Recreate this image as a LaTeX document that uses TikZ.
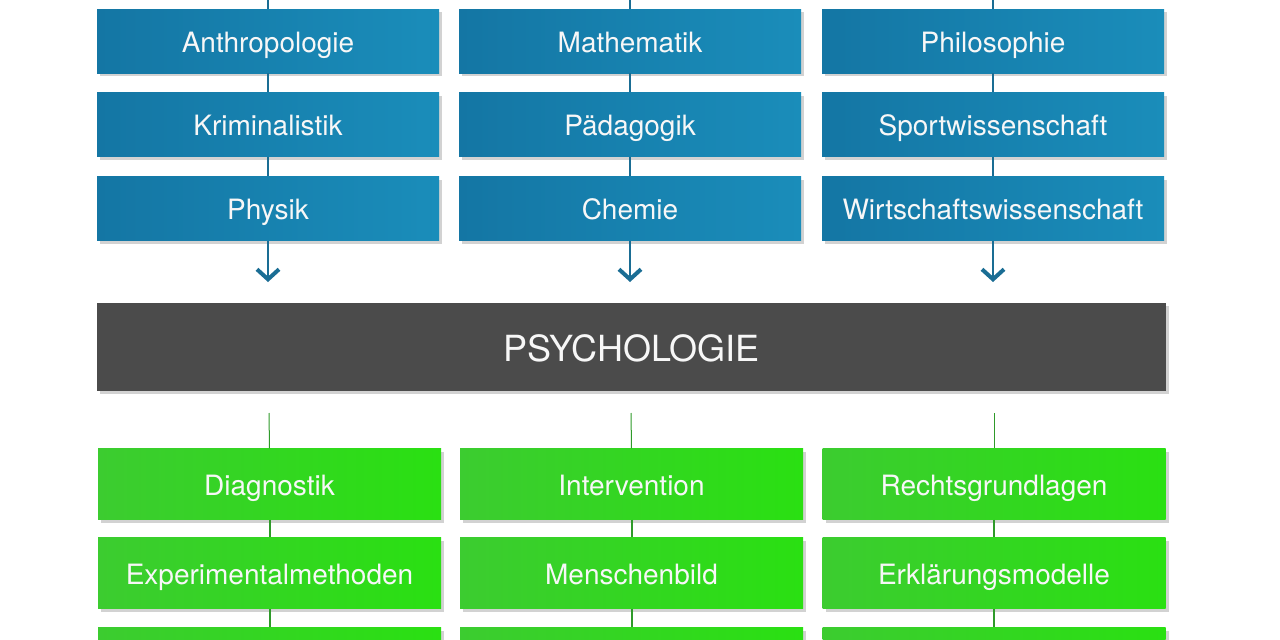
\documentclass[tikz,border=0pt]{standalone}
\usepackage{fontspec}
\setmainfont{TeX Gyre Heros}
\usetikzlibrary{shadows,arrows.meta}
\definecolor{blaul}{HTML}{1476A4}
\definecolor{blaur}{HTML}{1A8DBA}
\definecolor{blaulinie}{HTML}{1A6D94}
\definecolor{gruenl}{HTML}{3CCC30}
\definecolor{gruenr}{HTML}{2AE012}
\definecolor{gruenlinie}{HTML}{2F9A2A}
\definecolor{dunkel}{HTML}{4B4B4B}
\begin{document}
\begin{tikzpicture}[x=1pt,y=-1pt,
  fach/.style={rectangle, minimum width=342pt, minimum height=64pt, inner sep=0pt,
    left color=blaul, right color=blaur, text=white!94!gray,
    font=\fontsize{28}{30}\selectfont, text height=26pt, text depth=4pt,
    drop shadow={shadow xshift=3pt, shadow yshift=-3pt, opacity=0.35}},
  anwendung/.style={fach, minimum width=343pt, minimum height=71pt,
    left color=gruenl, right color=gruenr},
  psy/.style={rectangle, minimum width=1069pt, minimum height=88pt, inner sep=0pt,
    fill=dunkel, text=white!94!gray, font=\fontsize{36}{40}\selectfont,
    text height=28pt, text depth=0pt,
    drop shadow={shadow xshift=3pt, shadow yshift=-3pt, opacity=0.35}},
  blau/.style={draw=blaulinie, line width=2.5pt},
  pfeil/.style={blau, -{Straight Barb[length=10pt,width=22pt,line width=4pt]}},
  gruen/.style={draw=gruenlinie, line width=2pt},
  duenn/.style={draw=gruenlinie, line width=1pt}]
\useasboundingbox (0,0) rectangle (1280,640);
\clip (0,0) rectangle (1280,640);
\fill[white] (0,0) rectangle (1280,640);

% Nachbardisziplinen
\coordinate (t1) at (268,-5);
\coordinate (t2) at (630,-5);
\coordinate (t3) at (993,-5);
\node[fach] (n1) at (268,41) {Anthropologie};
\node[fach] (n2) at (268,124.5) {Kriminalistik};
\node[fach] (n3) at (268,208.5) {Physik};
\node[fach] (n4) at (630,41) {Mathematik};
\node[fach] (n5) at (630,124.5) {Pädagogik};
\node[fach] (n6) at (630,208.5) {Chemie};
\node[fach] (n7) at (993,41) {Philosophie};
\node[fach] (n8) at (993,124.5) {Sportwissenschaft};
\node[fach] (n9) at (993,208.5) {Wirtschaftswissenschaft};
\coordinate (p1) at (268,282);
\coordinate (p2) at (630,282);
\coordinate (p3) at (993,282);

\node[psy] (psy) at (631.5,347) {PSYCHOLOGIE};

% Anwendungsfelder
\coordinate (u1) at (269,413);
\coordinate (u2) at (631,413);
\coordinate (u3) at (994,413);
\node[anwendung] (g1) at (269.5,484) {Diagnostik};
\node[anwendung] (g2) at (269.5,573) {Experimentalmethoden};
\node[anwendung] (g3) at (269.5,663) {};
\node[anwendung] (g4) at (631.5,484) {Intervention};
\node[anwendung] (g5) at (631.5,573) {Menschenbild};
\node[anwendung] (g6) at (631.5,663) {};
\node[anwendung] (g7) at (994,484) {Rechtsgrundlagen};
\node[anwendung] (g8) at (994,573) {Erklärungsmodelle};
\node[anwendung] (g9) at (994,663) {};

\path[blau] (t1) -- (n1.north);
\path[blau] (n1) -- (n2);
\path[blau] (n2) -- (n3);
\path[pfeil] (n3.south) -- (p1);
\path[blau] (t2) -- (n4.north);
\path[blau] (n4) -- (n5);
\path[blau] (n5) -- (n6);
\path[pfeil] (n6.south) -- (p2);
\path[blau] (t3) -- (n7.north);
\path[blau] (n7) -- (n8);
\path[blau] (n8) -- (n9);
\path[pfeil] (n9.south) -- (p3);

\path[duenn] (u1) -- (g1.north);
\path[gruen] (g1) -- (g2);
\path[gruen] (g2) -- (g3);
\path[duenn] (u2) -- (g4.north);
\path[gruen] (g4) -- (g5);
\path[gruen] (g5) -- (g6);
\path[duenn] (u3) -- (g7.north);
\path[gruen] (g7) -- (g8);
\path[gruen] (g8) -- (g9);
\end{tikzpicture}
\end{document}
